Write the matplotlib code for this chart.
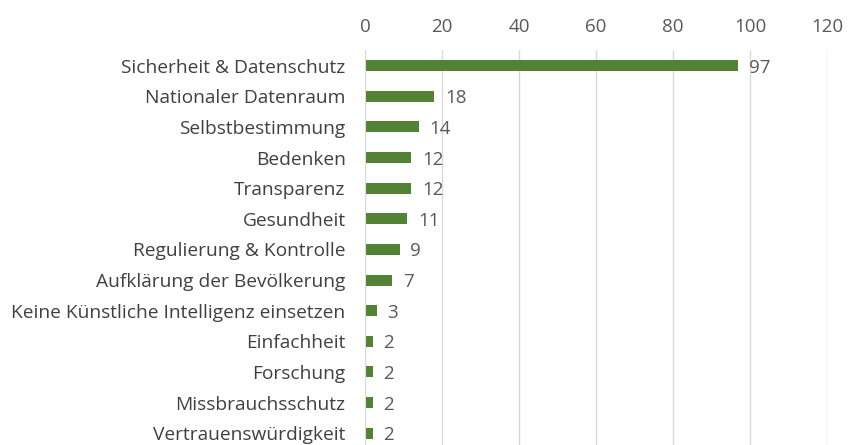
import matplotlib.pyplot as plt

plt.rcParams['font.family'] = ['Open Sans', 'DejaVu Sans']

categories = ['Sicherheit & Datenschutz', 'Nationaler Datenraum', 'Selbstbestimmung',
              'Bedenken', 'Transparenz', 'Gesundheit', 'Regulierung & Kontrolle',
              'Aufklärung der Bevölkerung', 'Keine Künstliche Intelligenz einsetzen',
              'Einfachheit', 'Forschung', 'Missbrauchsschutz', 'Vertrauenswürdigkeit']
counts = [97, 18, 14, 12, 12, 11, 9, 7, 3, 2, 2, 2, 2]
ticks = [0, 20, 40, 60, 80, 100, 120]

fig = plt.figure(figsize=(8.48, 4.45), dpi=100)
ax = fig.add_axes([0.4304, -0.008, 0.5448, 0.895])

y = list(range(len(categories)))
ax.barh(y, counts, height=0.36, color='#548235', zorder=3)
for yi, v in zip(y, counts):
    ax.text(v + 2.8, yi, str(v), va='center_baseline', ha='left', fontsize=13.5, color='#595959')

ax.set_xlim(0, 120)
ax.set_ylim(len(categories) - 0.5, -0.5)
ax.set_xticks(ticks)
ax.set_yticks(y)
ax.set_yticklabels(categories, fontsize=13.8, color='#404040')
ax.xaxis.tick_top()
ax.tick_params(axis='x', length=0, pad=10, labelsize=13.5, labelcolor='#595959')
ax.tick_params(axis='y', length=0, pad=14)
ax.grid(axis='x', color='#d9d9d9', linewidth=1, zorder=0)
for s in ['top', 'right', 'bottom']:
    ax.spines[s].set_visible(False)
ax.spines['left'].set_color('#d9d9d9')
ax.spines['left'].set_zorder(4)

fig.savefig('out.png', dpi=100)
